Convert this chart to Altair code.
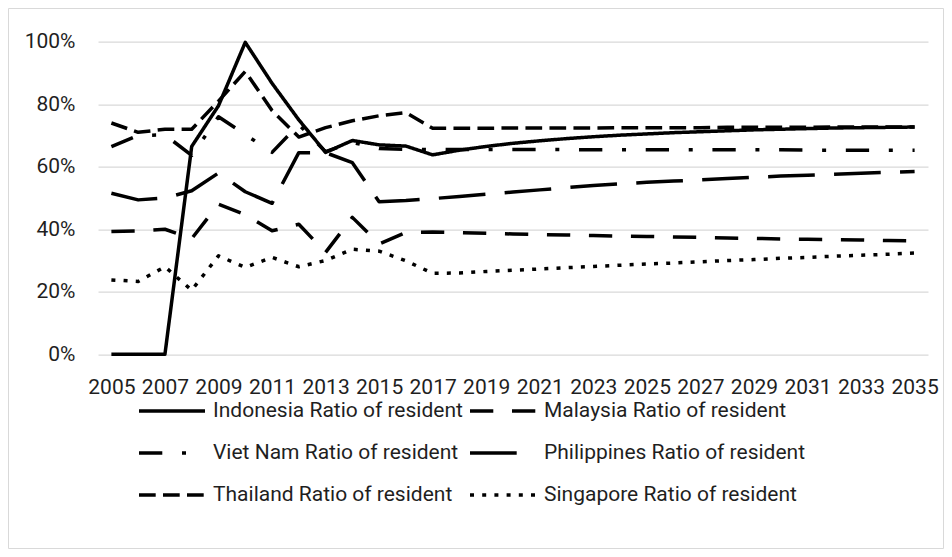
import altair as alt
import pandas as pd

# ---------------- data ----------------
years = list(range(2005, 2036))

series_names = [
    "Indonesia Ratio of resident",
    "Malaysia Ratio of resident",
    "Viet Nam Ratio of resident",
    "Philippines Ratio of resident",
    "Thailand Ratio of resident",
    "Singapore Ratio of resident",
]

indonesia = [0.0, 0.0, 0.0, 66.5, 79.5, 99.8, 86.7, 75.0, 64.6, 68.4, 67.0, 66.6, 63.8,
             65.3, 66.5, 67.5, 68.3, 69.0, 69.6, 70.1, 70.5, 70.9, 71.2, 71.5, 71.8,
             72.0, 72.2, 72.4, 72.5, 72.6, 72.7]
malaysia = [39.3, 39.5, 40.0, 37.0, 48.0, 44.7, 39.5, 41.6, 32.6, 43.8, 35.3, 39.0, 39.1,
            38.9, 38.7, 38.5, 38.3, 38.2, 38.0, 37.8, 37.7, 37.5, 37.4, 37.2, 37.1,
            36.9, 36.8, 36.7, 36.6, 36.4, 36.3]
vietnam = [66.4, 70.0, 70.2, 63.6, 76.0, 70.3, 64.6, 73.5, 64.8, 67.8, 65.8, 65.6, 65.5,
           65.5, 65.5, 65.5, 65.5, 65.5, 65.4, 65.4, 65.4, 65.4, 65.4, 65.4, 65.4,
           65.4, 65.3, 65.3, 65.3, 65.3, 65.3]
philippines = [51.5, 49.4, 50.0, 52.3, 58.0, 52.0, 48.3, 64.5, 64.5, 61.3, 48.8, 49.2, 49.8,
               50.5, 51.2, 51.9, 52.6, 53.3, 54.0, 54.5, 55.0, 55.4, 55.8, 56.2, 56.6,
               57.0, 57.3, 57.6, 57.9, 58.2, 58.5]
thailand = [74.0, 71.0, 72.0, 72.0, 81.0, 90.5, 78.0, 69.5, 72.5, 74.7, 76.3, 77.3, 72.3,
            72.3, 72.3, 72.4, 72.4, 72.4, 72.4, 72.5, 72.5, 72.5, 72.5, 72.6, 72.6,
            72.6, 72.6, 72.7, 72.7, 72.7, 72.7]
singapore = [23.8, 23.3, 28.0, 20.5, 31.5, 27.8, 31.0, 28.0, 30.0, 33.6, 33.0, 29.9, 25.9,
             26.0, 26.5, 26.9, 27.3, 27.7, 28.1, 28.5, 28.9, 29.2, 29.6, 30.0, 30.3,
             30.7, 31.0, 31.4, 31.7, 32.0, 32.4]

y_ticks = [0, 0.2, 0.4, 0.6, 0.8, 1.0]
x_ticks = list(range(2005, 2036, 2))

all_values = [indonesia, malaysia, vietnam, philippines, thailand, singapore]
rows = []
for name, vals in zip(series_names, all_values):
    for yr, v in zip(years, vals):
        rows.append({"year": yr, "series": name, "value": v / 100.0})
df = pd.DataFrame(rows)

# ---------------- styles ----------------
FONT = "Roboto"
TEXT = "#1f1f1f"
GRID = "#d9d9d9"
LW = 3.5
dash_patterns = [
    [1, 0],                      # solid
    [23.3, 18.7],                # dash
    [23.3, 19.7, 4, 19.7],       # dash-dot
    [46.7, 19.3],                # long dash
    [16.7, 7.3],                 # short dash
    [4, 8.2],                    # dot
]

W, H = 830, 312.6
PAD = {"left": 90, "top": 33.7, "right": 16, "bottom": 194.7}

lines = alt.Chart(df).mark_line(
    color="black", strokeWidth=LW, strokeCap="butt", strokeJoin="round"
).encode(
    x=alt.X("year:Q",
            scale=alt.Scale(domain=[2004.5, 2035.5], nice=False, zero=False),
            axis=alt.Axis(values=x_ticks, format="d", title=None, grid=False,
                          domain=False, ticks=False, tickSize=0, labelPadding=22,
                          labelOverlap=False, labelFont=FONT, labelFontSize=21,
                          labelColor=TEXT, labelFlush=False)),
    y=alt.Y("value:Q",
            scale=alt.Scale(domain=[0, 1], nice=False),
            axis=alt.Axis(values=y_ticks, format=".0%", title=None, grid=True,
                          gridColor=GRID, gridWidth=1.3, domain=False, ticks=False,
                          tickSize=0, labelPadding=23, labelFont=FONT,
                          labelFontSize=21, labelColor=TEXT)),
    strokeDash=alt.StrokeDash(
        "series:N",
        scale=alt.Scale(domain=series_names, range=dash_patterns),
        sort=series_names,
        legend=alt.Legend(
            title=None, orient="none", legendX=39, legendY=357.3, columns=2,
            direction="horizontal", clipHeight=24,
            symbolType="stroke", symbolSize=4356, symbolStrokeWidth=LW,
            symbolStrokeColor="black", labelFont=FONT, labelFontSize=21,
            labelColor=TEXT, labelLimit=400, labelOffset=6, columnPadding=5,
            rowPadding=18, padding=0,
        ),
    ),
    detail="series:N",
)

frame = alt.Chart(alt.Data(values=[{}])).mark_rect(
    fill="transparent", stroke=GRID, strokeWidth=1
).encode(
    x=alt.value(-PAD["left"] + 0.5),
    x2=alt.value(W + PAD["right"] - 0.5),
    y=alt.value(-PAD["top"] + 0.5),
    y2=alt.value(H + PAD["bottom"] - 0.5),
)

chart = alt.layer(frame, lines).properties(
    width=W, height=H, padding=PAD,
    autosize=alt.AutoSizeParams(type="none"),
).configure_view(stroke=None)

chart.save("out.html", embed_options={"renderer": "svg", "actions": False})
